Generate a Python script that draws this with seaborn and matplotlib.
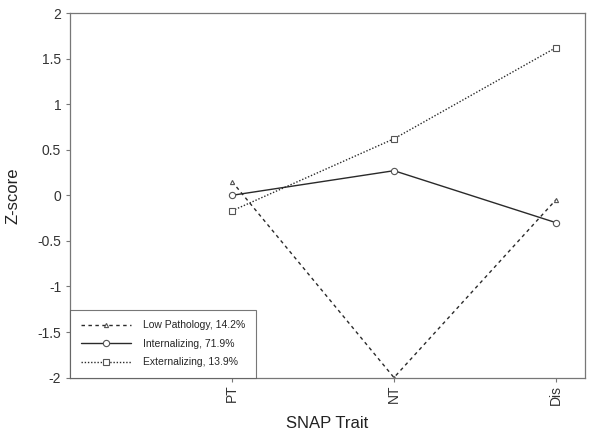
import numpy as np
import pandas as pd
import matplotlib
matplotlib.use("Agg")
import matplotlib.pyplot as plt
import seaborn as sns

# Data
traits = ["PT", "NT", "Dis"]
low_path = [0.15, -2.0, -0.05]
internal = [0.0, 0.27, -0.30]
external = [-0.17, 0.62, 1.62]

sns.set_style("white")
plt.rcParams['font.family'] = ['Liberation Sans', 'DejaVu Sans']

fig, ax = plt.subplots(figsize=(6, 4.34), dpi=100)
fig.subplots_adjust(left=0.117, right=0.975, top=0.97, bottom=0.13)

x = np.arange(len(traits))
df = pd.DataFrame({"x": np.tile(x, 3),
                   "z": low_path + internal + external,
                   "group": ["Low Pathology, 14.2%"] * 3 + ["Internalizing, 71.9%"] * 3
                            + ["Externalizing, 13.9%"] * 3})

styles = {
    "Low Pathology, 14.2%": dict(ls=(0, (2.5, 2.5)), marker="^", ms=3),
    "Internalizing, 71.9%": dict(ls="-", marker="o", ms=4.5),
    "Externalizing, 13.9%": dict(ls=(0, (1, 1.3)), marker="s", ms=4),
}
for name, grp in df.groupby("group", sort=False):
    st = styles[name]
    sns.lineplot(data=grp, x="x", y="z", ax=ax, color="#2a2a2a", lw=1.0,
                 linestyle=st["ls"], marker=st["marker"], markersize=st["ms"],
                 markerfacecolor="white", markeredgecolor="#555555",
                 markeredgewidth=0.8, label=name)

ax.set_xlim(-1.0, 2.18)
ax.set_ylim(-2, 2)
ax.set_xticks(x)
ax.set_xticklabels(traits, rotation=90, fontsize=10, color="#333333")
ax.set_yticks(np.arange(-2, 2.01, 0.5))
ax.set_yticklabels(["-2", "-1.5", "-1", "-0.5", "0", "0.5", "1", "1.5", "2"],
                   fontsize=10, color="#333333")
ax.tick_params(axis="both", bottom=True, left=True, length=3, width=0.8,
               color="#777777", direction="out")
ax.tick_params(axis="x", pad=2)
for s in ax.spines.values():
    s.set_color("#777777")
    s.set_linewidth(0.9)

ax.set_xlabel("SNAP Trait", fontsize=12, color="#222222", labelpad=8)
ax.set_ylabel("Z-score", fontsize=12, color="#222222", labelpad=12)

leg = ax.legend(loc="lower left", borderaxespad=0, fontsize=7.5, frameon=True,
                fancybox=False, handlelength=4.8, handletextpad=1.2,
                borderpad=1.0, labelspacing=0.8, markerfirst=True)
leg.get_frame().set_edgecolor("#555555")
leg.get_frame().set_linewidth(0.8)

plt.savefig("out.png", dpi=100)
